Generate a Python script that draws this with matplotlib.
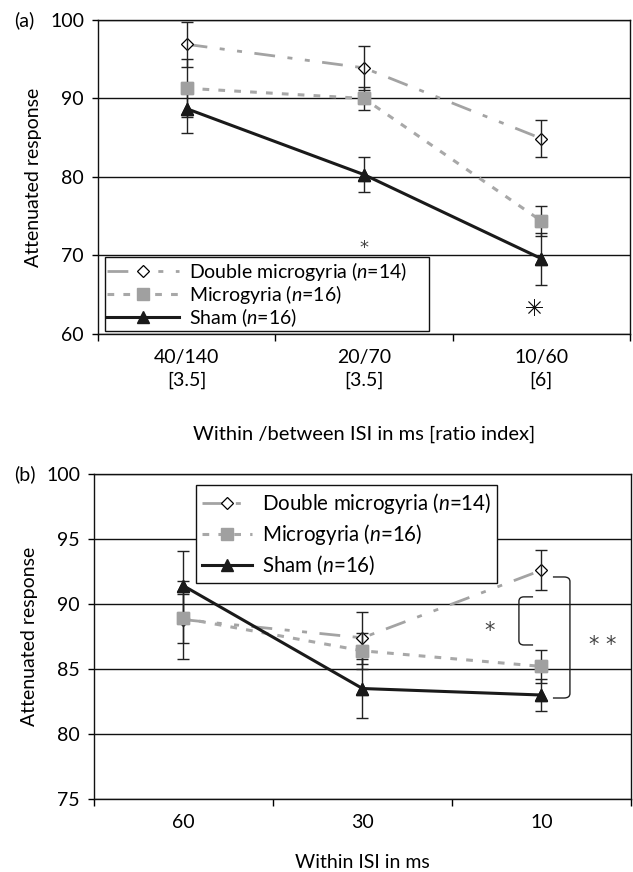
import matplotlib
matplotlib.use('Agg')
import matplotlib.pyplot as plt
from matplotlib.path import Path
from matplotlib.patches import PathPatch

# 字体：Lato 接近原图的 Gill Sans 风格
plt.rcParams['font.family'] = ['Lato', 'DejaVu Sans']
plt.rcParams['mathtext.fontset'] = 'custom'
plt.rcParams['mathtext.it'] = 'Lato:italic'
plt.rcParams['mathtext.rm'] = 'Lato'
plt.rcParams['font.size'] = 14

# ---------------------- 数据 ----------------------
# (a) within/between ISI
a_labels = ['40/140\n[3.5]', '20/70\n[3.5]', '10/60\n[6]']
a_dm = [96.9, 93.9, 84.9]
a_dm_err = [2.9, 2.8, 2.3]
a_mg = [91.3, 90.0, 74.4]
a_mg_err = [3.7, 1.5, 1.9]
a_sham = [88.7, 80.3, 69.6]
a_sham_err = [3.1, 2.2, 3.3]

# (b) within ISI
b_labels = ['60', '30', '10']
b_dm = [88.8, 87.4, 92.6]
b_dm_err = [3.0, 2.0, 1.55]
b_mg = [88.9, 86.4, 85.2]
b_mg_err = [1.9, 1.4, 1.3]
b_sham = [91.4, 83.5, 83.0]
b_sham_err = [2.7, 2.3, 1.2]

names = ['Double microgyria ($n$=14)', 'Microgyria ($n$=16)', 'Sham ($n$=16)']

# 显著性标注 (x, y)
a_star_small = (2.0, 71.5)
a_star_big = (2.96, 63.4)
b_star_one = (2.71, 88.3)
b_star_two = (3.34, 87.2)
# 括号: (竖线x, 钩子x, 上端y, 下端y)
b_brackets = [(2.874, 2.953, 90.55, 86.85), (3.159, 3.064, 92.08, 82.77)]

GRAY_DM = '#a3a3a3'
GRAY_MG = '#a8a8a8'
x = [1, 2, 3]


def draw_panel(ax, dm, dm_err, mg, mg_err, sham, sham_err):
    l1, = ax.plot(x, dm, color=GRAY_DM, lw=2.0, dashes=(7.5, 4.5, 1.8, 4.5, 1.8, 4.5),
                  marker='D', ms=6.5, mfc='white', mec='black', mew=0.9, zorder=3)
    l2, = ax.plot(x, mg, color=GRAY_MG, lw=2.2, dashes=(2.2, 3.0),
                  marker='s', ms=8.5, mfc='#a0a0a0', mec='#a0a0a0', zorder=3)
    l3, = ax.plot(x, sham, color='#1a1a1a', lw=2.2, marker='^', ms=8.5,
                  mfc='#1a1a1a', mec='#1a1a1a', zorder=3.5)
    for vals, errs in [(dm, dm_err), (mg, mg_err), (sham, sham_err)]:
        ax.errorbar(x, vals, yerr=errs, fmt='none', ecolor='#222222', elinewidth=1.0,
                    capsize=4.3, capthick=1.0, zorder=4)
    # 实心标记放在误差线之上
    ax.plot(x, mg, ls='none', marker='s', ms=8.5, mfc='#a0a0a0', mec='#a0a0a0', zorder=5)
    ax.plot(x, sham, ls='none', marker='^', ms=8.5, mfc='#1a1a1a', mec='#1a1a1a', zorder=5)
    return [l1, l2, l3]


def style_axes(ax, ylim, yticks, labels):
    ax.set_xlim(0.5, 3.5)
    ax.set_ylim(*ylim)
    ax.set_yticks(yticks)
    ax.yaxis.grid(True, color='#111111', lw=1.0)
    ax.set_axisbelow(True)
    ax.set_xticks(x)
    ax.set_xticklabels(labels, linespacing=1.4)
    ax.set_xticks([0.5, 1.5, 2.5, 3.5], minor=True)
    ax.tick_params(axis='x', which='major', length=0, pad=11, labelsize=14)
    ax.tick_params(axis='x', which='minor', length=5, width=1, direction='out')
    ax.tick_params(axis='y', length=4, width=1, pad=6, labelsize=14)
    for s in ax.spines.values():
        s.set_linewidth(1.0)
        s.set_color('#111111')
    ax.set_ylabel('Attenuated response', fontsize=14, labelpad=6)


def star(ax, pos, txt, size=15):
    # DejaVu 的星号偏上，用偏移把字形中心放到 pos
    ax.annotate(txt, xy=pos, xytext=(0, -0.53 * size), textcoords='offset points',
                ha='center', va='baseline', fontsize=size, color='#444444',
                family='DejaVu Sans')


fig = plt.figure(figsize=(6.33, 8.72), dpi=100)

# ---------------------- (a) ----------------------
ax1 = fig.add_axes([0.1548, 0.6170, 0.8404, 0.3601])
h = draw_panel(ax1, a_dm, a_dm_err, a_mg, a_mg_err, a_sham, a_sham_err)
style_axes(ax1, (60, 100), [60, 70, 80, 90, 100], a_labels)
ax1.set_xlabel('Within /between ISI in ms [ratio index]', fontsize=14.5, labelpad=26)
leg1 = ax1.legend(h, names, loc='lower left', bbox_to_anchor=(0.013, 0.01, 0.609, 0.2),
                  mode='expand', frameon=True, fancybox=False, edgecolor='#111111',
                  framealpha=1, fontsize=14, handlelength=3.7, handletextpad=0.5,
                  labelspacing=0.0, borderpad=0.12, borderaxespad=0)
leg1.get_frame().set_linewidth(1.0)
leg1.set_zorder(6)
star(ax1, a_star_small, '*', 13)
ax1.plot(*a_star_big, marker=(8, 2, 0), ms=12, mec='#111111', mew=0.6, ls='none')

# ---------------------- (b) ----------------------
ax2 = fig.add_axes([0.1485, 0.0837, 0.8483, 0.3727])
h = draw_panel(ax2, b_dm, b_dm_err, b_mg, b_mg_err, b_sham, b_sham_err)
style_axes(ax2, (75, 100), [75, 80, 85, 90, 95, 100], b_labels)
ax2.set_xlabel('Within ISI in ms', fontsize=14, labelpad=16)
leg2 = ax2.legend(h, names, loc='upper left', bbox_to_anchor=(0.19, 0.966),
                  frameon=True, fancybox=False, edgecolor='#111111', framealpha=1,
                  fontsize=14.8, handlelength=2.4, handletextpad=0.5, labelspacing=0.3,
                  borderpad=0.3, borderaxespad=0)
leg2.get_frame().set_linewidth(1.0)
leg2.set_zorder(6)
star(ax2, b_star_one, '*')
star(ax2, b_star_two, '* *')

for xv, xh, yt, yb in b_brackets:
    r = 0.35  # 圆角
    dx = (xh - xv) * 0.35
    verts = [(xh, yt), (xv + dx, yt), (xv, yt), (xv, yt - r),
             (xv, yb + r), (xv, yb), (xv + dx, yb), (xh, yb)]
    codes = [Path.MOVETO, Path.LINETO, Path.CURVE3, Path.CURVE3,
             Path.LINETO, Path.CURVE3, Path.CURVE3, Path.LINETO]
    ax2.add_patch(PathPatch(Path(verts, codes), fill=False, ec='#222222', lw=1.0,
                            clip_on=False, zorder=4))

fig.text(14 / 633, 1 - 20 / 872, '(a)', fontsize=14, ha='left', va='center')
fig.text(14 / 633, 1 - 474 / 872, '(b)', fontsize=14, ha='left', va='center')

fig.savefig('out.png', dpi=100)
